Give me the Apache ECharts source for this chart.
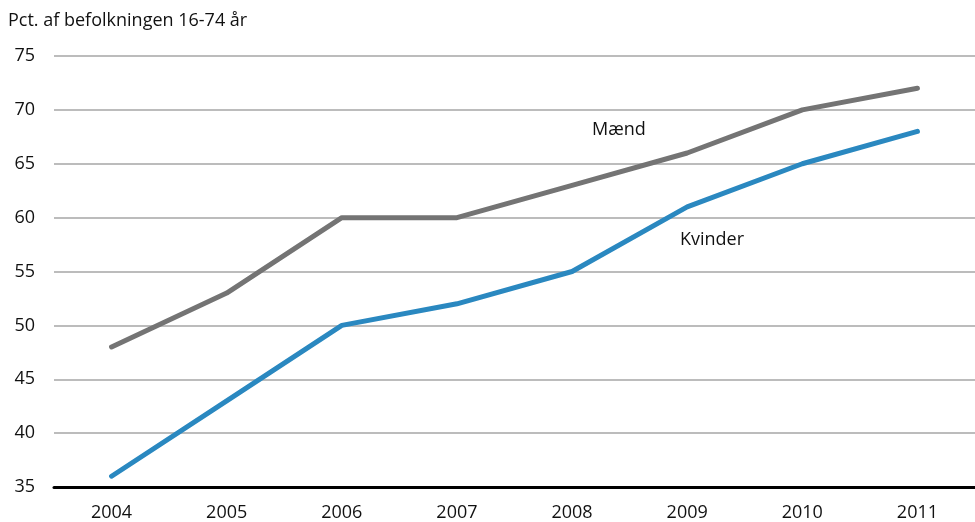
<!DOCTYPE html>
<html><head><meta charset="utf-8">
<script src="https://cdn.jsdelivr.net/npm/echarts@6/dist/echarts.min.js"></script>
<style>html,body{margin:0;padding:0;background:#fff}#c{width:975px;height:522px}</style>
</head><body><div id="c"></div>
<script>
const years = ['2004','2005','2006','2007','2008','2009','2010','2011'];
const maend = [48, 53, 60, 60, 63, 66, 70, 72];
const kvinder = [36, 43, 50, 52, 55, 61, 65, 68];
const yTitle = 'Pct. af befolkningen 16-74 år';
const FONT = '"Open Sans",sans-serif';
const chart = echarts.init(document.getElementById('c'));
chart.setOption({
  animation: false,
  grid: {left: 54, top: 56, width: 928, height: 431, containLabel: false},
  xAxis: {
    type: 'category', data: years, boundaryGap: true,
    axisLine: {lineStyle: {color: '#000', width: 3}},
    axisTick: {show: false},
    axisLabel: {color: '#111', fontSize: 18, fontFamily: FONT, margin: 17}
  },
  yAxis: {
    type: 'value', min: 35, max: 75, interval: 5,
    axisLine: {show: false}, axisTick: {show: false},
    axisLabel: {color: '#111', fontSize: 18, fontFamily: FONT, margin: 19},
    splitLine: {lineStyle: {color: '#a6a6a6', width: 1.5}}
  },
  graphic: [
    {type: 'text', left: 8, top: 12, style: {text: yTitle, fill: '#111', font: '18px ' + FONT}},
    {type: 'text', left: 592, top: 121, style: {text: 'Mænd', fill: '#111', font: '18px ' + FONT}},
    {type: 'text', left: 680, top: 231, style: {text: 'Kvinder', fill: '#111', font: '18px ' + FONT}}
  ],
  series: [
    {name: 'Mænd', type: 'line', data: maend, symbol: 'none', lineStyle: {color: '#747474', width: 5, cap: 'round', join: 'round'}},
    {name: 'Kvinder', type: 'line', data: kvinder, symbol: 'none', lineStyle: {color: '#2a88c0', width: 5, cap: 'round', join: 'round'}}
  ]
});
</script></body></html>
